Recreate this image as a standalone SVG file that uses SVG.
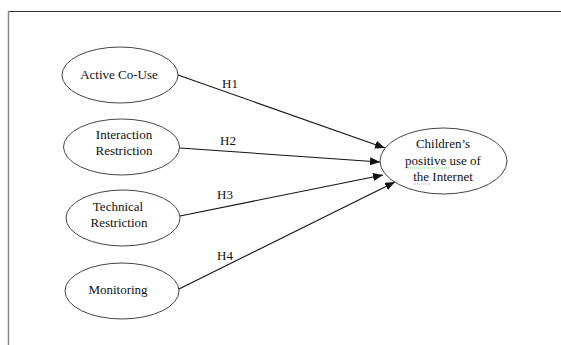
<svg xmlns="http://www.w3.org/2000/svg" width="561" height="345" viewBox="0 0 561 345">
<defs>
<style>
.n{fill:#fff;stroke:#444;stroke-width:1}
.t{font-family:"Liberation Serif","Times New Roman",serif;font-size:13px;fill:#111;text-anchor:middle}
.c{stroke:#111;stroke-width:1.1;fill:none;marker-end:url(#ah)}
.sq{stroke:#6c6;stroke-width:0.8;fill:none;stroke-dasharray:1 1}
</style>
<marker id="ah" viewBox="0 0 10 8" refX="10" refY="4" markerWidth="10" markerHeight="8" markerUnits="userSpaceOnUse" orient="auto">
<path d="M0,0 L10,4 L0,8 z" fill="#111"/>
</marker>
</defs>
<rect width="561" height="345" fill="#fff"/>
<line x1="8" y1="11.5" x2="561" y2="11.5" stroke="#333" stroke-width="1.2"/>
<line x1="8.5" y1="11" x2="8.5" y2="345" stroke="#888" stroke-width="1.5"/>
<g id="connectors">
<line class="c" x1="178" y1="75" x2="385" y2="148"/>
<line class="c" x1="180" y1="148" x2="380" y2="162"/>
<line class="c" x1="180" y1="216" x2="383" y2="175"/>
<line class="c" x1="179" y1="289" x2="395" y2="182"/>
<text class="t" x="230" y="88">H1</text>
<text class="t" x="228" y="145">H2</text>
<text class="t" x="225" y="199">H3</text>
<text class="t" x="225" y="260">H4</text>
</g>
<g id="active">
<ellipse class="n" cx="120" cy="75" rx="58" ry="28"/>
<text class="t" x="119" y="79">Active Co-Use</text>
</g>
<g id="interaction">
<ellipse class="n" cx="121.5" cy="147" rx="58" ry="28"/>
<text class="t" x="124" y="139">Interaction</text>
<text class="t" x="124" y="155">Restriction</text>
</g>
<g id="technical">
<ellipse class="n" cx="123" cy="218" rx="57" ry="28"/>
<text class="t" x="118" y="211">Technical</text>
<text class="t" x="119" y="227">Restriction</text>
</g>
<g id="monitoring">
<ellipse class="n" cx="122" cy="291" rx="57" ry="28"/>
<text class="t" x="118" y="294">Monitoring</text>
</g>
<g id="outcome">
<ellipse class="n" cx="443.5" cy="161" rx="63.5" ry="33"/>
<text class="t" x="443" y="148">Children’s</text>
<text class="t" x="443" y="165">positive use of</text>
<text class="t" x="443" y="181">the Internet</text>
<path class="sq" d="M406,168 L450,168"/>
<path class="sq" d="M413,184 L431,184"/>
</g>
</svg>
